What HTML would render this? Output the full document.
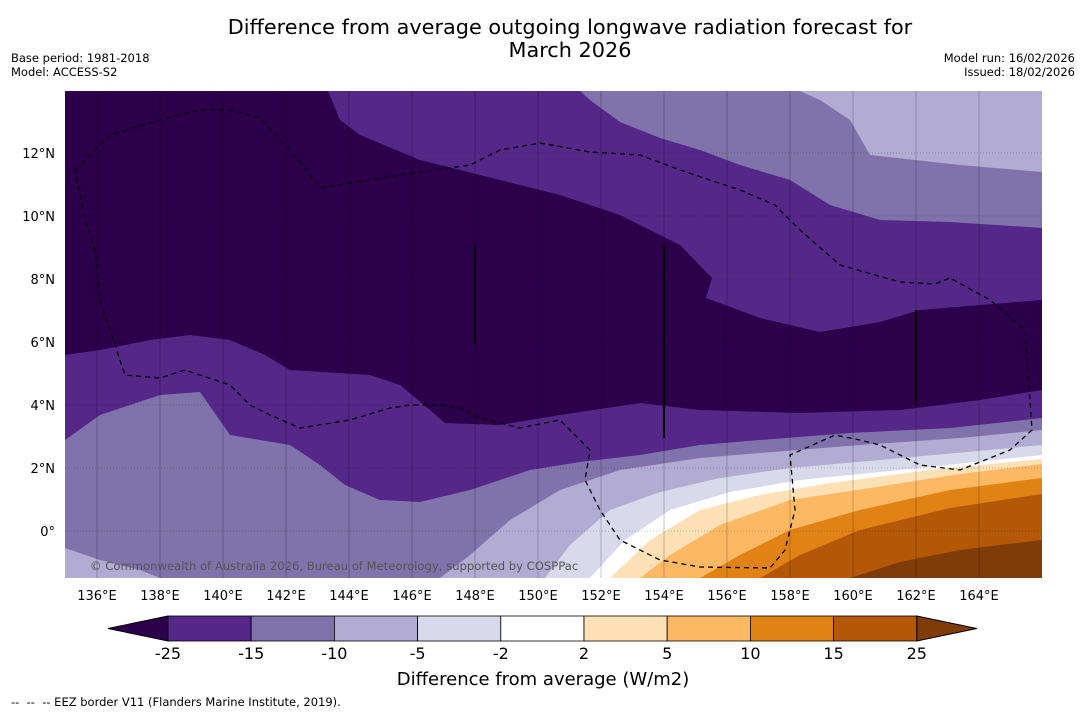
<!DOCTYPE html>
<html><head><meta charset="utf-8"><style>
body{margin:0;background:#fff;font-family:"Liberation Sans","DejaVu Sans",sans-serif}
svg text{font-family:"DejaVu Sans","Liberation Sans",sans-serif}
</style></head><body>
<svg width="1085" height="713" viewBox="0 0 1085 713">
<text x="570" y="34" font-size="20.8" text-anchor="middle">Difference from average outgoing longwave radiation forecast for</text>
<text x="570" y="57" font-size="20.8" text-anchor="middle">March 2026</text>
<text x="11" y="62" font-size="11.5">Base period: 1981-2018</text>
<text x="11" y="76" font-size="11.5">Model: ACCESS-S2</text>
<text x="1075" y="62" font-size="11.5" text-anchor="end">Model run: 16/02/2026</text>
<text x="1075" y="76" font-size="11.5" text-anchor="end">Issued: 18/02/2026</text>
<defs><clipPath id="mc"><rect x="65" y="91" width="977" height="487"/></clipPath></defs>
<g clip-path="url(#mc)" id="map">
<rect x="65" y="91" width="977" height="487" fill="#542788"/>
<path fill="#2d004b" d="M65,91 L328,91 340,120 360,135 420,160 480,175 560,195 620,215 680,245 712,278 706,298 760,318 820,332 880,322 920,310 1042,300 1042,390 980,400 900,410 800,413 700,410 640,403 560,415 500,425 445,423 430,410 400,385 370,375 290,370 265,355 230,340 190,335 150,340 100,350 65,355Z"/>
<path fill="#8073ac" d="M580,91 L1042,91 1042,228 950,222 880,220 830,205 790,180 740,165 700,150 660,138 620,122 590,100Z"/>
<path fill="#b2abd2" d="M800,91 L1042,91 1042,172 960,165 870,155 850,120 820,100Z"/>
<path fill="#8073ac" d="M65,440 L100,415 160,395 200,392 230,435 290,445 320,465 345,485 380,500 420,502 470,490 530,470 580,462 640,455 700,445 760,440 850,433 950,428 1042,418 1042,578 65,578Z"/>
<path fill="#b2abd2" d="M440,578 L470,555 510,520 560,490 620,470 700,458 760,453 860,445 960,438 1042,430 1042,578Z M65,548 L100,560 140,570 160,578 65,578Z"/>
<path fill="#d8daeb" d="M545,578 L570,545 610,510 660,492 720,478 790,468 880,460 1042,445 1042,578Z"/>
<path fill="#ffffff" d="M590,578 L625,540 670,510 730,492 800,480 900,470 1042,455 1042,578Z"/>
<path fill="#fee0b6" d="M610,578 L650,540 700,510 760,495 830,483 930,470 1042,459 1042,578Z"/>
<path fill="#fdb863" d="M640,578 L670,555 720,525 790,500 870,488 960,474 1042,464 1042,578Z"/>
<path fill="#e08214" d="M700,578 L740,555 790,530 860,510 950,490 1042,478 1042,578Z"/>
<path fill="#b35806" d="M760,578 L800,555 860,530 950,508 1042,494 1042,578Z"/>
<path fill="#7f3b08" d="M850,578 L900,562 960,550 1042,540 1042,578Z"/>
<g id="grid" stroke="#000" stroke-opacity="0.22" stroke-width="1"></g>
<g stroke="#000" stroke-width="2">
<line x1="475" y1="245" x2="475" y2="345"/><line x1="664" y1="245" x2="664" y2="438"/><line x1="916" y1="310" x2="916" y2="405"/></g>
<path fill="none" stroke="#000" stroke-width="1.3" stroke-dasharray="5,4" d="M75,170 L110,135 160,120 200,110 230,110 260,118 290,150 320,188 400,175 470,165 500,150 540,143 590,152 640,155 680,170 740,190 775,205 800,230 840,265 900,282 935,284 950,278 990,300 1025,330 1032,430 1010,450 960,470 920,465 880,445 860,440 835,435 790,455 795,510 785,550 770,568 700,567 660,560 620,540 600,510 585,480 590,450 560,420 520,428 480,418 460,408 440,405 410,405 390,408 350,420 300,428 270,415 250,405 230,385 215,380 185,370 160,378 125,375 110,330 100,300 95,250 85,220 75,170"/>
<text x="90" y="570" font-size="11.6" fill="#555">© Commonwealth of Australia 2026, Bureau of Meteorology, supported by COSPPac</text>
</g>
<g id="xt" font-size="13" text-anchor="middle"></g>
<g id="yt" font-size="13" text-anchor="end"></g>
<g id="cb"></g>
<text x="543" y="685" font-size="18" text-anchor="middle">Difference from average (W/m2)</text>
<text x="11" y="706" font-size="11.5" style="white-space:pre">--  --  -- EEZ border V11 (Flanders Marine Institute, 2019).</text>
</svg>
<script>
const NS="http://www.w3.org/2000/svg";
const lonTicks=[136,138,140,142,144,146,148,150,152,154,156,158,160,162,164];
const latTicks=[0,2,4,6,8,10,12];
const cbLevels=["-25","-15","-10","-5","-2","2","5","10","15","25"];
const cbColors=["#542788","#8073ac","#b2abd2","#d8daeb","#ffffff","#fee0b6","#fdb863","#e08214","#b35806"];
const xs=lon=>97+(lon-136)*31.5, ys=lat=>531-lat*31.5;
function mk(t,a,p){const e=document.createElementNS(NS,t);for(const k in a)e.setAttribute(k,a[k]);p.appendChild(e);return e;}
const grid=document.getElementById('grid'),xt=document.getElementById('xt'),yt=document.getElementById('yt'),cb=document.getElementById('cb');
lonTicks.forEach(l=>{const g=mk('line',{x1:xs(l),x2:xs(l),y1:91,y2:578},grid);


const t=mk('text',{x:xs(l),y:600},xt);t.textContent=l+'°E';

});
latTicks.forEach(l=>{const g=mk('line',{x1:65,x2:1042,y1:ys(l),y2:ys(l),'stroke-dasharray':'1,2'},grid);


const t=mk('text',{x:55,y:ys(l)+5},yt);t.textContent=l===0?'0°':l+'°N';

});
const x0=168,w=83.2,y0=616,h=25;
let p=mk('polygon',{points:`108,${y0+h/2} ${x0},${y0} ${x0},${y0+h}`,fill:'#2d004b',stroke:'#000'},cb);


cbColors.forEach((c,i)=>{const r=mk('rect',{x:x0+i*w,y:y0,width:w,height:h,fill:c,stroke:'#000','stroke-width':0.8},cb);

});
const xe=x0+cbColors.length*w;
p=mk('polygon',{points:`${xe},${y0} ${xe+60},${y0+h/2} ${xe},${y0+h}`,fill:'#7f3b08',stroke:'#000'},cb);


cbLevels.forEach((s,i)=>{const t=mk('text',{x:x0+i*w,y:659,'font-size':16,'text-anchor':'middle'},cb);t.textContent=s;

});
</script>
</body></html>
